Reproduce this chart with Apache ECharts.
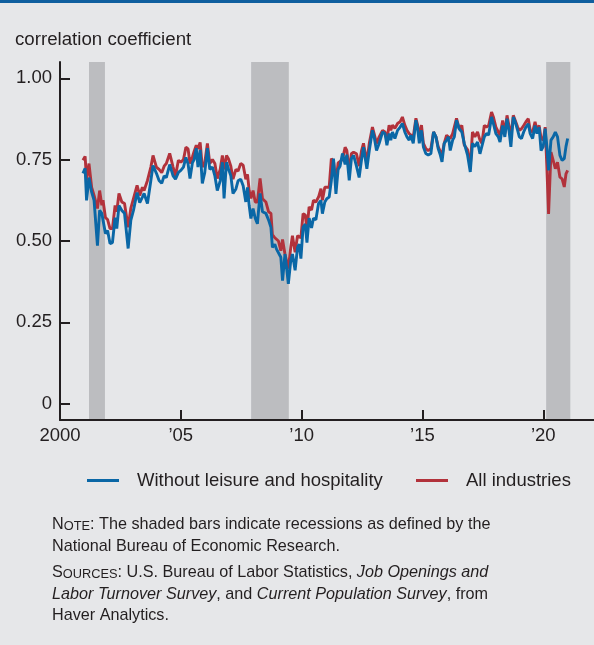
<!DOCTYPE html>
<html><head><meta charset="utf-8">
<script src="https://cdn.jsdelivr.net/npm/echarts@6/dist/echarts.min.js"></script>
<style>html,body{margin:0;padding:0;background:#e6e7e9;}#c{width:594px;height:645px;}</style>
</head><body><div id="c"></div>
<script>
// decimal years of each observation
const dates = [
2000.95,2001.04,2001.10,2001.20,2001.31,2001.41,2001.55,2001.64,2001.73,2001.78,2001.88,2001.97,2002.07,2002.17,2002.28,2002.35,2002.44,2002.56,2002.67,2002.82,2002.93,2003.04,2003.19,2003.30,2003.41,2003.48,2003.62,2003.76,2003.85,2003.99,2004.10,2004.21,2004.31,2004.40,2004.54,2004.68,2004.78,2004.90,
2005.00,2005.11,2005.21,2005.30,2005.38,2005.48,2005.55,2005.64,2005.71,2005.80,2005.89,2005.99,2006.10,2006.20,2006.31,2006.41,2006.51,2006.63,2006.72,2006.79,2006.89,2006.97,2007.07,2007.16,2007.28,2007.37,2007.48,2007.58,2007.69,2007.76,2007.83,2007.90,2007.99,2008.08,2008.17,2008.28,2008.38,2008.52,2008.63,2008.73,
2008.79,2008.89,2008.96,2009.04,2009.14,2009.21,2009.31,2009.39,2009.45,2009.55,2009.62,2009.73,2009.83,2009.90,2009.97,2010.06,2010.15,2010.22,2010.31,2010.41,2010.49,2010.59,2010.70,2010.80,2010.86,2010.96,2011.04,2011.14,2011.23,2011.32,2011.42,2011.51,2011.59,2011.69,2011.80,2011.87,2011.97,2012.06,2012.15,2012.27,2012.38,2012.48,2012.56,
2012.70,2012.80,2012.93,2013.00,2013.10,2013.21,2013.35,2013.45,2013.53,2013.62,2013.69,2013.76,2013.86,2013.97,2014.08,2014.17,2014.27,2014.36,2014.45,2014.52,2014.62,2014.73,2014.80,2014.87,2014.96,2015.04,2015.14,2015.24,2015.35,2015.46,2015.56,2015.65,2015.74,2015.81,2015.90,2016.00,2016.08,2016.15,2016.25,2016.32,2016.41,
2016.52,2016.63,2016.73,2016.87,2016.98,2017.07,2017.17,2017.28,2017.38,2017.46,2017.56,2017.65,2017.74,2017.86,2017.94,2018.04,2018.14,2018.21,2018.32,2018.41,2018.50,2018.59,2018.66,2018.76,2018.84,2018.94,2019.01,2019.10,2019.19,2019.28,2019.38,2019.46,2019.56,2019.66,2019.74,2019.83,2019.91,2020.00,2020.08,2020.15,2020.22,2020.32,2020.41,2020.50,2020.59,2020.69,2020.78,2020.87,2020.94,2021.01
];
// Without leisure and hospitality
const withoutLeisure = [
0.708,0.723,0.625,0.695,0.650,0.625,0.486,0.594,0.585,0.590,0.523,0.532,0.492,0.495,0.572,0.538,0.609,0.594,0.585,0.477,0.563,0.594,0.649,0.618,0.635,0.646,0.615,0.686,0.732,0.708,0.686,0.677,0.700,0.695,0.735,0.700,0.690,0.711,
0.717,0.727,0.757,0.737,0.692,0.740,0.750,0.785,0.727,0.780,0.677,0.710,0.785,0.720,0.727,0.700,0.655,0.685,0.742,0.631,0.742,0.722,0.700,0.646,0.660,0.685,0.690,0.670,0.620,0.665,0.609,0.569,0.600,0.570,0.553,0.646,0.590,0.585,0.565,0.542,
0.480,0.490,0.475,0.470,0.450,0.378,0.460,0.410,0.368,0.440,0.460,0.410,0.480,0.490,0.446,0.542,0.552,0.495,0.570,0.540,0.570,0.565,0.615,0.625,0.584,0.620,0.630,0.635,0.686,0.753,0.645,0.720,0.730,0.769,0.735,0.765,0.686,0.753,0.763,0.730,0.695,0.750,0.788,
0.722,0.778,0.840,0.820,0.778,0.800,0.835,0.830,0.794,0.830,0.810,0.835,0.815,0.840,0.850,0.861,0.835,0.820,0.810,0.825,0.800,0.871,0.846,0.800,0.840,0.789,0.769,0.764,0.769,0.835,0.820,0.784,0.764,0.743,0.800,0.810,0.820,0.778,0.810,0.820,0.871,
0.845,0.835,0.800,0.763,0.712,0.800,0.790,0.804,0.768,0.768,0.820,0.830,0.826,0.881,0.860,0.830,0.820,0.804,0.855,0.820,0.876,0.835,0.789,0.881,0.866,0.840,0.820,0.815,0.835,0.850,0.860,0.830,0.815,0.855,0.830,0.850,0.778,0.790,0.845,0.790,0.717,0.810,0.820,0.835,0.820,0.763,0.748,0.753,0.790,0.815
];
// All industries
const allIndustries = [
0.748,0.760,0.686,0.738,0.665,0.640,0.600,0.655,0.610,0.625,0.572,0.566,0.538,0.538,0.609,0.590,0.646,0.620,0.615,0.542,0.600,0.630,0.671,0.640,0.665,0.655,0.686,0.727,0.763,0.727,0.720,0.710,0.730,0.738,0.769,0.727,0.700,0.748,
0.742,0.750,0.788,0.783,0.738,0.758,0.775,0.794,0.783,0.803,0.727,0.740,0.800,0.738,0.750,0.738,0.692,0.720,0.763,0.720,0.763,0.753,0.730,0.690,0.720,0.715,0.738,0.733,0.690,0.705,0.655,0.631,0.655,0.620,0.620,0.692,0.630,0.620,0.590,0.585,
0.520,0.510,0.505,0.500,0.470,0.505,0.460,0.460,0.415,0.480,0.516,0.465,0.516,0.520,0.510,0.584,0.580,0.535,0.605,0.595,0.625,0.620,0.635,0.661,0.625,0.665,0.660,0.665,0.753,0.745,0.680,0.740,0.740,0.750,0.788,0.778,0.715,0.768,0.773,0.768,0.730,0.778,0.800,
0.742,0.800,0.850,0.830,0.800,0.820,0.840,0.835,0.810,0.856,0.840,0.856,0.846,0.861,0.867,0.881,0.856,0.840,0.830,0.835,0.820,0.877,0.856,0.820,0.856,0.800,0.784,0.778,0.784,0.835,0.820,0.790,0.775,0.764,0.800,0.825,0.830,0.815,0.830,0.835,0.877,
0.845,0.855,0.795,0.780,0.727,0.835,0.820,0.835,0.810,0.800,0.855,0.850,0.855,0.896,0.880,0.850,0.835,0.825,0.870,0.830,0.886,0.850,0.820,0.886,0.886,0.850,0.840,0.845,0.855,0.866,0.876,0.840,0.835,0.866,0.840,0.855,0.815,0.810,0.850,0.727,0.583,0.773,0.748,0.722,0.742,0.696,0.691,0.666,0.706,0.717
];
// NBER recession periods (decimal years)
const recessions = [[2001.20, 2001.86], [2007.91, 2009.47], [2020.12, 2021.12]];
const xTicks = [2000, 2005, 2010, 2015, 2020];
const xTickLabels = ['2000', '\u201905', '\u201910', '\u201915', '\u201920'];
const yTicks = [0, 0.25, 0.5, 0.75, 1];
const yTickLabels = ['0', '0.25', '0.50', '0.75', '1.00'];
const seriesNames = ['Without leisure and hospitality', 'All industries'];

const font = "'Liberation Sans', Arial, Helvetica, sans-serif";
const ink = '#231f20';
const blue = '#0a67a6';
const red = '#b2323b';
const shade = '#bcbdc0';

const chart = echarts.init(document.getElementById('c'), null, {renderer: 'canvas'});
const pair = arr => arr.map((v, i) => [dates[i], v]);
const noteSize = 16.2;
const rich = {
  b: {fontSize: noteSize, fontFamily: font, fill: ink, color: ink},
  s: {fontSize: 12.8, fontFamily: font, fill: ink, color: ink, verticalAlign: 'bottom'},
  i: {fontSize: noteSize, fontFamily: font, fontStyle: 'italic', fill: ink, color: ink}
};
const noteLines = [
  '{b|N}{s|OTE}{b|: The shaded bars indicate recessions as defined by the}',
  '{b|National Bureau of Economic Research.}',
  '{b|S}{s|OURCES}{b|: U.S. Bureau of Labor Statistics, }{i|Job Openings and}',
  '{i|Labor Turnover Survey}{b|, and }{i|Current Population Survey}{b|, from}',
  '{b|Haver Analytics.}'
];
const noteY = [525, 546.7, 572.7, 594.3, 616];

const legendBase = {
  orient: 'horizontal', top: 471, padding: 0, icon: 'rect', itemWidth: 32, itemHeight: 3,
  selectedMode: false,
  textStyle: {fontSize: 18.5, fontFamily: font, color: ink, padding: [0, 0, 0, 13]}
};

const option = {
  backgroundColor: '#e6e7e9',
  animation: false,
  grid: {left: 60, right: 0, top: 62, bottom: 225, containLabel: false},
  xAxis: {
    type: 'value', min: 2000, max: 2022.1, z: 10,
    axisLine: {show: true, onZero: false, lineStyle: {color: ink, width: 2}},
    axisTick: {show: true, inside: true, length: 10, customValues: xTicks, lineStyle: {color: ink, width: 2}},
    axisLabel: {customValues: xTicks, formatter: v => xTickLabels[xTicks.indexOf(v)] || '',
      fontSize: 18.5, fontFamily: font, color: ink, margin: 6},
    splitLine: {show: false}
  },
  yAxis: {
    type: 'value', min: -0.05, max: 1.05, z: 10,
    axisLine: {show: true, onZero: false, lineStyle: {color: ink, width: 2}},
    axisTick: {show: true, inside: true, length: 10, customValues: yTicks, lineStyle: {color: ink, width: 2}},
    axisLabel: {customValues: yTicks, formatter: v => {
        const k = yTicks.findIndex(t => Math.abs(t - v) < 1e-9); return k >= 0 ? yTickLabels[k] : ''; },
      fontSize: 18.5, fontFamily: font, color: ink, margin: 8},
    splitLine: {show: false}
  },
  legend: [
    Object.assign({}, legendBase, {left: 87, data: [seriesNames[0]]}),
    Object.assign({}, legendBase, {left: 416, data: [seriesNames[1]]})
  ],
  series: [
    {
      name: 'recessions', type: 'line', data: [], z: 1, silent: true,
      markArea: {silent: true, itemStyle: {color: shade, opacity: 1},
        data: recessions.map(r => [{xAxis: r[0]}, {xAxis: r[1]}])}
    },
    {
      name: seriesNames[1], type: 'line', data: pair(allIndustries), z: 2,
      showSymbol: false, symbol: 'none', lineStyle: {color: red, width: 2.9}, itemStyle: {color: red}
    },
    {
      name: seriesNames[0], type: 'line', data: pair(withoutLeisure), z: 3,
      showSymbol: false, symbol: 'none', lineStyle: {color: blue, width: 2.9}, itemStyle: {color: blue}
    }
  ],
  graphic: [
    {type: 'rect', shape: {x: 0, y: 0, width: 594, height: 3}, style: {fill: '#0f5f9f'}},
    {type: 'text', x: 15, y: 40, style: {text: 'correlation coefficient', fontSize: 18.7, fontFamily: font, fill: ink, verticalAlign: 'middle'}}
  ].concat(noteLines.map((t, k) => ({
    type: 'text', x: 52, y: noteY[k],
    style: {text: t, rich: rich, fontSize: noteSize, fontFamily: font, fill: ink, verticalAlign: 'middle'}
  })))
};
chart.setOption(option);
</script>
</body></html>
